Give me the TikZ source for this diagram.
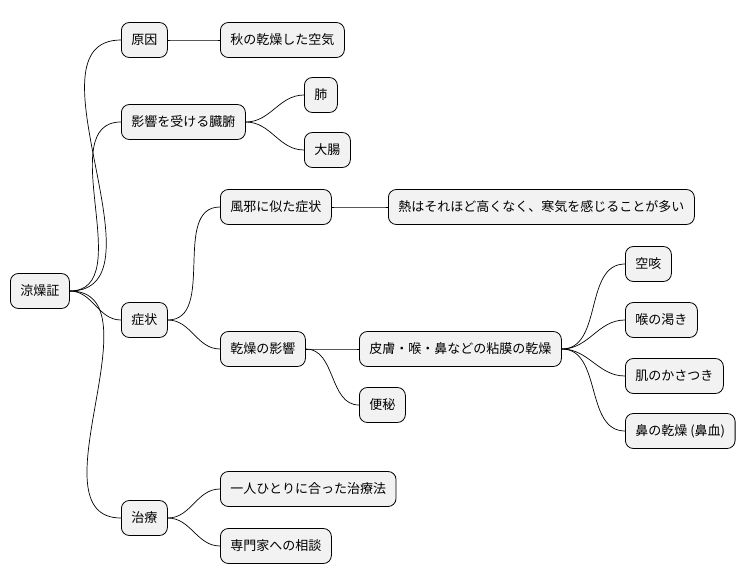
\documentclass[tikz,border=0pt]{standalone}
\usepackage{fontspec}
\setmainfont{Noto Sans CJK JP}
\begin{document}
\begin{tikzpicture}[x=1pt,y=-1pt,
  n/.style={draw=black,line width=0.8pt,fill=gray!10,rounded corners=8pt,minimum height=35pt,inner xsep=10pt,anchor=west,font=\fontsize{13}{15}\selectfont},
  e/.style={draw=black,line width=0.7pt}]
\useasboundingbox (0,0) rectangle (756,583);
\node[n] (r) at (10,291) {涼燥証};
\node[n] (a) at (121,40) {原因};
\node[n] (a1) at (220,40) {秋の乾燥した空気};
\node[n] (b) at (121,122) {影響を受ける臓腑};
\node[n] (b1) at (304,95) {肺};
\node[n] (b2) at (304,150) {大腸};
\node[n] (c) at (121,320) {症状};
\node[n] (c1) at (220,207) {風邪に似た症状};
\node[n] (c11) at (388,207) {熱はそれほど高くなく、寒気を感じることが多い};
\node[n] (c2) at (220,349) {乾燥の影響};
\node[n] (c21) at (359,349) {皮膚・喉・鼻などの粘膜の乾燥};
\node[n] (d1) at (625,264) {空咳};
\node[n] (d2) at (625,320) {喉の渇き};
\node[n] (d3) at (625,376) {肌のかさつき};
\node[n] (d4) at (625,431) {鼻の乾燥 (鼻血)};
\node[n] (c22) at (359,405) {便秘};
\node[n] (t) at (121,518) {治療};
\node[n] (t1) at (220,489) {一人ひとりに合った治療法};
\node[n] (t2) at (220,546) {専門家への相談};
\foreach \p/\c in {r/a,r/b,r/c,r/t,a/a1,b/b1,b/b2,c/c1,c/c2,c1/c11,c2/c21,c2/c22,c21/d1,c21/d2,c21/d3,c21/d4,t/t1,t/t2}
  \draw[e] (\p.east) to[out=0,in=180] (\c.west);
\end{tikzpicture}
\end{document}
